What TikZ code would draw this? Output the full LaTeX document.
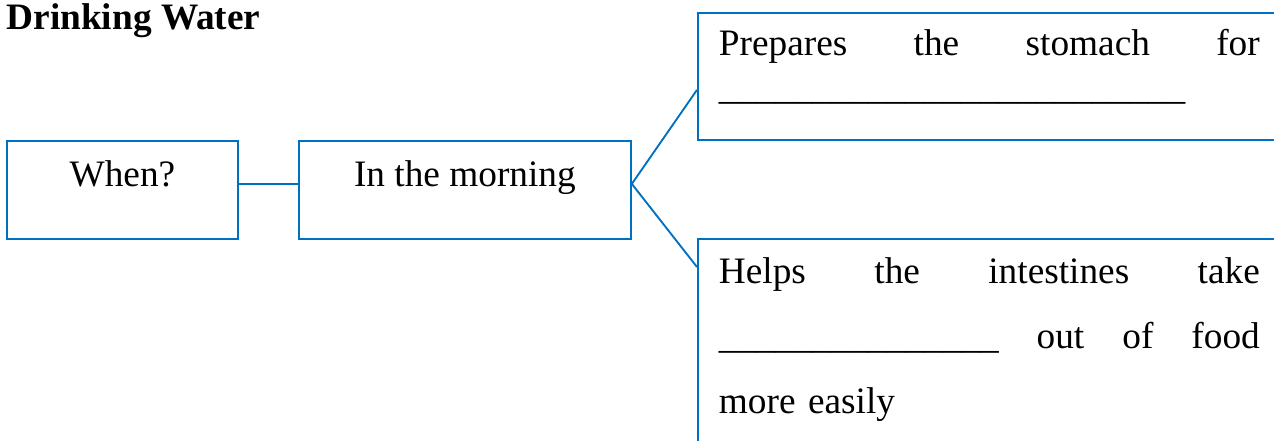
\documentclass[tikz,border=0pt]{standalone}
\usepackage{fontspec}
\setmainfont{Liberation Serif}
\usetikzlibrary{positioning}
\definecolor{boxblue}{RGB}{0,112,192}

\begin{document}
\begin{tikzpicture}[x=0.3217pt, y=-0.3217pt]
\tikzstyle{every node}=[font=\fontsize{12pt}{14.4pt}\selectfont]
\tikzstyle{box}=[draw=boxblue, line width=0.6pt, inner sep=0pt, anchor=north west]
\tikzstyle{small box}=[box, text height=14.8pt, text depth=16.7pt]
\tikzstyle{answer box}=[box, inner xsep=6.76pt, text width=174pt, align=left]
\tikzstyle{link}=[draw=boxblue, line width=0.6pt]

\clip (0,0) rectangle (1274,441);

\node[anchor=base west, inner sep=0pt, font=\fontsize{12pt}{14.4pt}\selectfont\bfseries] at (6,29) (title) {Drinking Water};

\node[small box, minimum width=74.3pt] at (6,140) (when) {When?};
\node[small box, minimum width=106.8pt] at (298,140) (morning) {In the morning};

\node[answer box, text height=13.83pt, text depth=27pt,
      font=\fontsize{12pt}{14.15pt}\selectfont] at (697,12) (stomach)
  {Prepares\hfill the\hfill stomach\hfill for\hspace{0.9pt}\\
   \_\_\_\_\_\_\_\_\_\_\_\_\_\_\_\_\_\_\_\_\_\_\_\_\_};
\node[answer box, text height=14.48pt, text depth=70.8pt,
      font=\fontsize{12pt}{20.9pt}\selectfont] at (697,238) (intestines)
  {Helps\hfill the\hfill intestines\hfill take\hspace{0.9pt}\\
   \_\_\_\_\_\_\_\_\_\_\_\_\_\_\_\hfill out\hfill of\hfill food\hspace{0.9pt}\\
   more easily};

\draw[link] ([yshift=1.93pt]when.east) -- ([yshift=1.93pt]morning.west);
\draw[link] ([yshift=1.93pt]morning.east) -- ([yshift=-4.34pt]stomach.west);
\draw[link] ([yshift=1.93pt]morning.east) -- ([yshift=-9.33pt]intestines.north west);
\end{tikzpicture}
\end{document}
